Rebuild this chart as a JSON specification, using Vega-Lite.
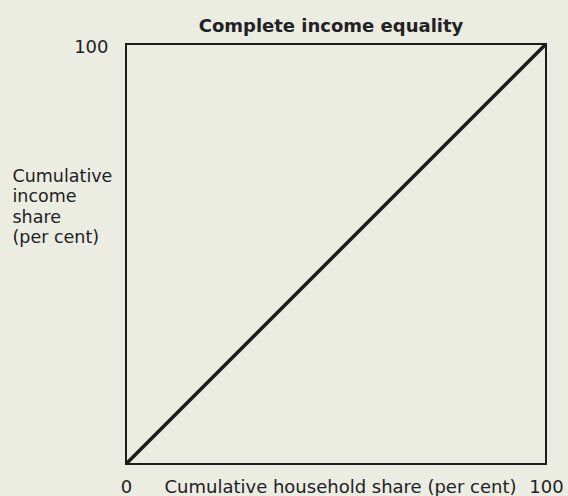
{
  "$schema": "https://vega.github.io/schema/vega-lite/v6.json",
  "width": 420,
  "height": 420,
  "autosize": "none",
  "padding": {"left": 126, "top": 44, "right": 22, "bottom": 32},
  "background": "#ebece2",
  "title": {
    "text": "Complete income equality",
    "font": "DejaVu Sans",
    "fontSize": 18,
    "fontWeight": "bold",
    "color": "#222222",
    "anchor": "middle",
    "frame": "group",
    "baseline": "alphabetic",
    "offset": -13,
    "dx": -5
  },
  "data": {
    "values": [
      {"household": 0, "income": 0},
      {"household": 100, "income": 100}
    ]
  },
  "mark": {"type": "line", "color": "#1c1c1c", "strokeWidth": 3.5, "strokeCap": "butt"},
  "encoding": {
    "x": {
      "field": "household",
      "type": "quantitative",
      "scale": {"domain": [0, 100], "nice": false},
      "axis": {
        "values": [0, 100],
        "domain": false,
        "ticks": false,
        "tickSize": 0,
        "grid": false,
        "labelFlush": false,
        "labelOverlap": false,
        "labelBound": false,
        "labelFont": "DejaVu Sans",
        "labelFontSize": 18,
        "labelColor": "#222222",
        "labelBaseline": "alphabetic",
        "labelPadding": 28,
        "title": "Cumulative household share (per cent)",
        "titleFont": "DejaVu Sans",
        "titleFontSize": 18,
        "titleFontWeight": "normal",
        "titleColor": "#222222",
        "titleBaseline": "alphabetic",
        "titleAlign": "center",
        "titleAnchor": null,
        "titleX": 214,
        "titleY": 28
      }
    },
    "y": {
      "field": "income",
      "type": "quantitative",
      "scale": {"domain": [0, 100], "nice": false},
      "axis": {
        "values": [100],
        "domain": false,
        "ticks": false,
        "tickSize": 0,
        "grid": false,
        "labelFlush": false,
        "labelOverlap": false,
        "labelBound": false,
        "labelFont": "DejaVu Sans",
        "labelFontSize": 18,
        "labelColor": "#222222",
        "labelAlign": "right",
        "labelBaseline": "middle",
        "labelOffset": 3.5,
        "labelPadding": 18,
        "title": ["Cumulative", "income", "share", "(per cent)"],
        "titleFont": "DejaVu Sans",
        "titleFontSize": 17.5,
        "titleFontWeight": "normal",
        "titleColor": "#222222",
        "titleAngle": 0,
        "titleAlign": "left",
        "titleBaseline": "alphabetic",
        "titleLineHeight": 20.5,
        "titleAnchor": null,
        "titleX": -114,
        "titleY": 137
      }
    }
  },
  "config": {
    "view": {"stroke": "#1c1c1c", "strokeWidth": 2, "fill": "#ebece2"}
  }
}
